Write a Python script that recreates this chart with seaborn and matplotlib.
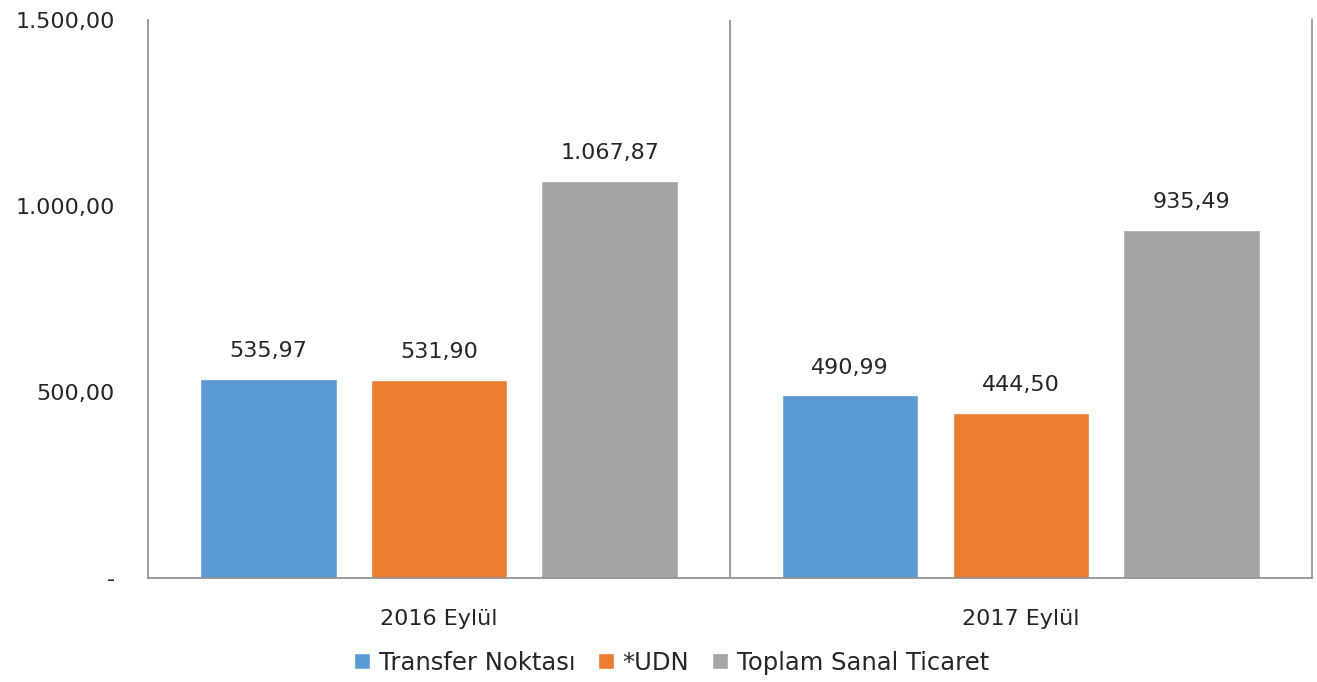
import pandas as pd
import numpy as np
import matplotlib.pyplot as plt
import matplotlib.ticker as mticker
import seaborn as sns

sns.set_style("white")
plt.rcParams['font.family'] = ['DejaVu Sans']

# data
periods = ['2016 Eylül', '2017 Eylül']
series = ['Transfer Noktası', '*UDN', 'Toplam Sanal Ticaret']
transfer = [535.97, 490.99]
udn = [531.90, 444.50]
toplam = [1067.87, 935.49]
colors = ['#5B9BD5', '#ED7D31', '#A5A5A5']

df = pd.DataFrame({
    'donem': periods * 3,
    'seri': [s for s in series for _ in periods],
    'deger': transfer + udn + toplam,
})

def tr_fmt(x, _=None):
    if x == 0:
        return '-'
    s = f'{x:,.2f}'
    return s.replace(',', 'X').replace('.', ',').replace('X', '.')

FS = 16
TXT = '#262626'

fig = plt.figure(figsize=(13.17, 6.82), dpi=100)
ax = fig.add_axes([0.1124, 0.1525, 0.8836, 0.8182])

sns.barplot(data=df, x='donem', y='deger', hue='seri', order=periods, hue_order=series,
            palette=colors, width=0.88, gap=0.2, saturation=1, ax=ax, legend=True)

for cont in ax.containers:
    for bar in cont:
        h = bar.get_height()
        ax.annotate(tr_fmt(h), (bar.get_x() + bar.get_width() / 2, h),
                    xytext=(0, 20), textcoords='offset points', ha='center', va='center',
                    fontsize=FS, color=TXT)

ax.set_ylim(0, 1500)
ax.set_xlim(-0.5, 1.5)
ax.set_yticks([0, 500, 1000, 1500])
ax.yaxis.set_major_formatter(mticker.FuncFormatter(tr_fmt))
ax.tick_params(axis='y', length=0, pad=24, labelsize=FS, labelcolor=TXT)
ax.tick_params(axis='x', length=0, pad=22, labelsize=FS, labelcolor=TXT)
ax.set_xlabel('')
ax.set_ylabel('')
ax.axvline(0.5, color='#8c8c8c', lw=1.2)
ax.spines['top'].set_visible(False)
for side in ['left', 'right', 'bottom']:
    ax.spines[side].set_color('#8c8c8c')
    ax.spines[side].set_linewidth(1.2)

ax.legend(loc='center', bbox_to_anchor=(0.51, 0.028), bbox_transform=fig.transFigure,
          ncol=3, frameon=False, fontsize=17.5, handlelength=0.65, handleheight=0.65,
          handletextpad=0.35, columnspacing=0.95, labelcolor=TXT)

plt.savefig('out.png', dpi=100)
